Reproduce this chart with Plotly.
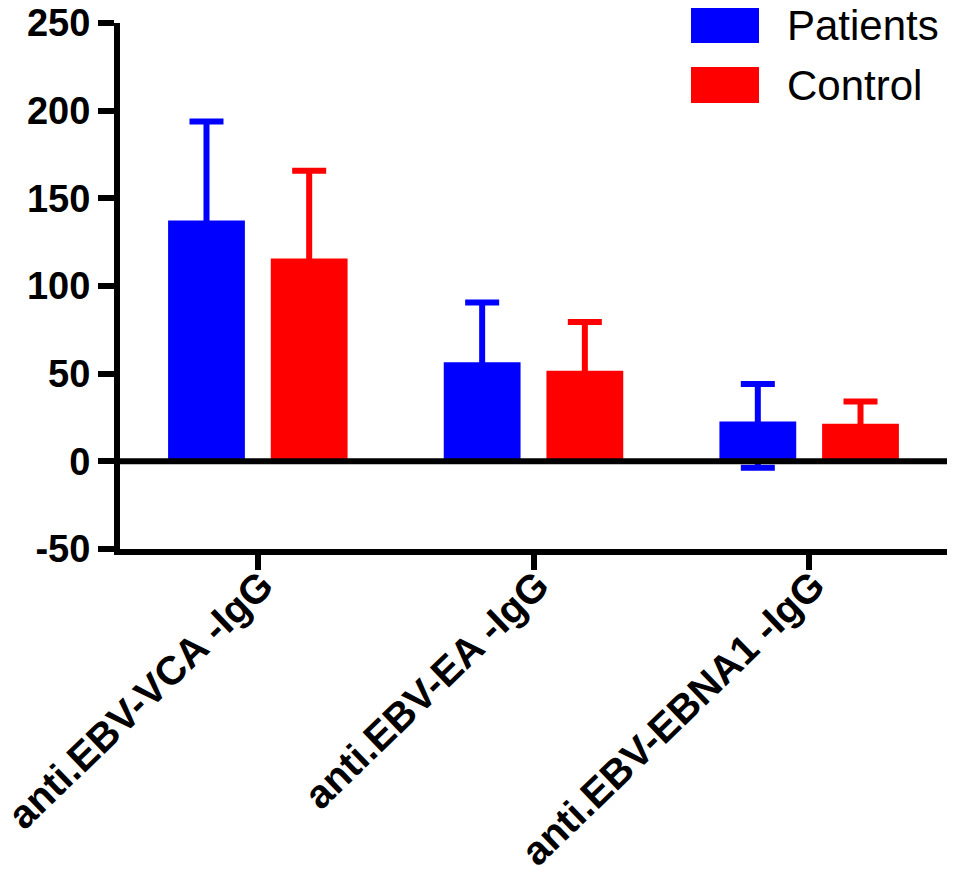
import plotly.graph_objects as go

categories = ["anti.EBV-VCA -IgG", "anti.EBV-EA -IgG", "anti.EBV-EBNA1 -IgG"]
patients_mean = [137.3, 56.5, 22.7]
patients_err_up = [56.5, 34.1, 21.4]
patients_err_down = [56.5, 34.1, 26.3]
control_mean = [115.7, 51.7, 21.4]
control_err_up = [50.0, 27.8, 12.7]
control_err_down = [50.0, 27.8, 12.7]
series_names = ["Patients", "Control"]
y_ticks = [-50, 0, 50, 100, 150, 200, 250]
y_tick_labels = ["-50", "0", "50", "100", "150", "200", "250"]

BLUE = "#0000FF"
RED = "#FF0000"
FONT = "Arial, Liberation Sans, Helvetica, sans-serif"

fig = go.Figure()
fig.add_trace(go.Bar(
    x=categories, y=patients_mean, name=series_names[0],
    marker=dict(color=BLUE, line=dict(width=0)),
    error_y=dict(type="data", symmetric=False, array=patients_err_up,
                 arrayminus=patients_err_down, color=BLUE, thickness=6, width=17),
))
fig.add_trace(go.Bar(
    x=categories, y=control_mean, name=series_names[1],
    marker=dict(color=RED, line=dict(width=0)),
    error_y=dict(type="data", symmetric=False, array=control_err_up,
                 arrayminus=control_err_down, color=RED, thickness=6, width=17),
))

# page has an 8px body margin: figure coords = page coords - 8
OFF = 8
W, H = 957 - OFF, 882 - OFF
L, T = 120 - OFF, 23 - OFF
R = W - (947 - OFF)
B = H - (549 - OFF)
pw = W - L - R
ph = H - T - B

def px_x(x):
    return (x - OFF - L) / pw

def px_y(y):
    return 1 - (y - OFF - T) / ph

fig.update_layout(
    width=W, height=H,
    margin=dict(l=L, r=R, t=T, b=B, autoexpand=False),
    paper_bgcolor="white", plot_bgcolor="white",
    barmode="group", bargap=0.255, bargroupgap=0.252,
    showlegend=False,
    font=dict(family=FONT, color="black"),
)
fig.update_xaxes(
    range=[-0.5, 2.5], showgrid=False, zeroline=False,
    showline=True, linecolor="black", linewidth=6,
    ticks="outside", ticklen=15, tickwidth=6, tickcolor="black",
    tickangle=-44, automargin=False,
    ticklabelstandoff=-24, ticklabelshift=4,
    tickfont=dict(family=FONT, size=40, color="black", weight="bold"),
)
fig.update_yaxes(
    range=[-50, 250], tickvals=y_ticks, ticktext=y_tick_labels,
    showgrid=False, zeroline=False,
    showline=True, linecolor="black", linewidth=6,
    ticks="outside", ticklen=16, tickwidth=6, tickcolor="black",
    automargin=False, ticklabeloverflow="allow",
    tickfont=dict(family=FONT, size=38, color="black", weight="bold"),
)

# zero line above traces
fig.add_shape(type="line", xref="paper", yref="y", x0=0, x1=1, y0=0, y1=0,
              line=dict(color="black", width=6), layer="above")

# manual legend
legend_items = [(series_names[0], BLUE, 7, 43), (series_names[1], RED, 67, 103)]
for name, col, y0, y1 in legend_items:
    fig.add_shape(type="rect", xref="paper", yref="paper",
                  x0=px_x(691), x1=px_x(759), y0=px_y(y1), y1=px_y(y0),
                  fillcolor=col, line=dict(width=0), layer="above")
    fig.add_annotation(xref="paper", yref="paper", x=px_x(786), y=px_y((y0 + y1) / 2),
                       text=name, showarrow=False, xanchor="left", yanchor="middle",
                       borderpad=0,
                       font=dict(family=FONT, size=42, color="black"))

fig.write_html("out.html")
